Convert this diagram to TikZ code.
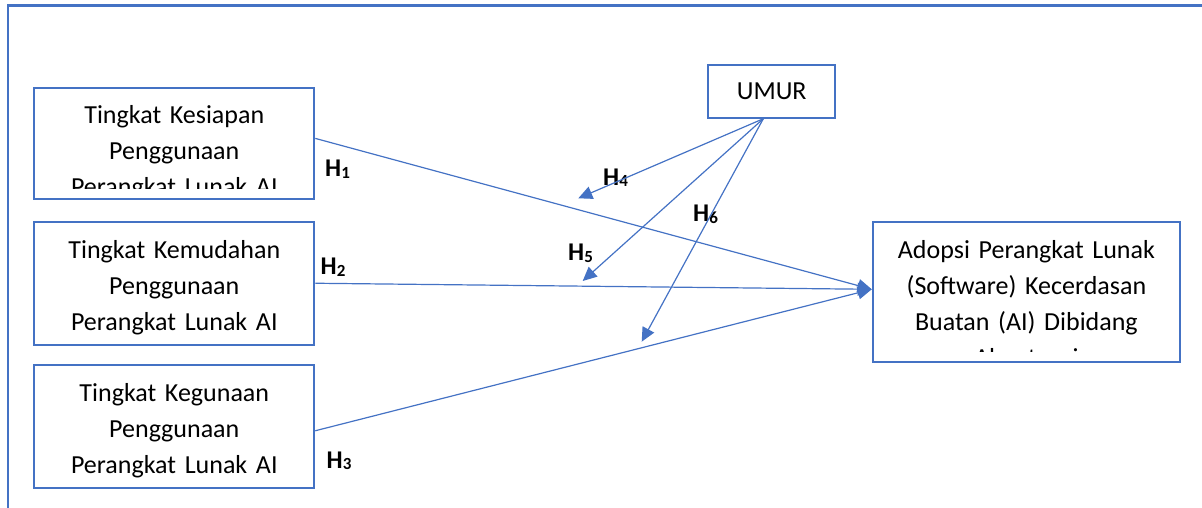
\documentclass[tikz,border=0pt]{standalone}
\usepackage{fontspec}
\setmainfont{Carlito}
\usepackage{tikz}
\usetikzlibrary{positioning}
\usetikzlibrary{calc}
\usetikzlibrary{arrows.meta}
\definecolor{umblue}{HTML}{4472C4}
\tikzstyle{arrow}=
[draw=umblue,line width=1.2pt,-{Triangle[length=14pt,width=13pt]}]
\tikzstyle{box}=
[rectangle,draw=umblue,line width=2pt,fill=white,text=black,
minimum width=280pt,inner sep=0pt,font=\fontsize{26}{36}\selectfont]
\tikzstyle{boxtext}=
[text=black,font=\fontsize{26}{36}\selectfont,align=center,
text width=300pt,inner sep=0pt,anchor=base]
\tikzstyle{hlabel}=
[font=\fontsize{25.5}{28}\selectfont\bfseries,anchor=base west,inner sep=0pt]
% text area of a box: inset 10pt from top and bottom
\newcommand{\boxclip}{\clip ([yshift=10.5pt]path picture bounding box.south west)
rectangle ([yshift=-10pt]path picture bounding box.north east);}
% hypothesis name with its index
\newcommand{\hyp}[1]{H\raisebox{-1.6pt}{\fontsize{17}{18}\selectfont #1}}

\begin{document}
\begin{tikzpicture}[x=1pt,y=-1pt]
\useasboundingbox (0,0) rectangle (1202,508);
% outer frame
\draw[umblue,line width=2.4pt] (8,508)--(8,5.5)--(1202,5.5);
\node (kesiapan)
[box,
minimum height=111.3pt,
path picture={\boxclip
\node[boxtext] at ([yshift=-35.7pt]path picture bounding box.north)
{Tingkat Kesiapan\\Penggunaan\\Perangkat Lunak AI};}]
at (174.3,143.4) {};
\node (kemudahan)
[box,
minimum height=123pt,
below=20.7pt of kesiapan,
path picture={\boxclip
\node[boxtext] at ([yshift=-36.6pt]path picture bounding box.north)
{Tingkat Kemudahan\\Penggunaan\\Perangkat Lunak AI};}]
{};
\node (kegunaan)
[box,
minimum height=122.4pt,
below=18.6pt of kemudahan,
path picture={\boxclip
\node[boxtext] at ([yshift=-36.6pt]path picture bounding box.north)
{Tingkat Kegunaan\\Penggunaan\\Perangkat Lunak AI};}]
{};
\node (umur)
[box,
minimum width=126.7pt,
minimum height=52.7pt]
at (771.7,91.4) {UMUR};
\node (adopsi)
[box,
minimum width=307.3pt,
minimum height=139.4pt,
path picture={\boxclip
\node[boxtext] at ([yshift=-36pt]path picture bounding box.north)
{Adopsi Perangkat Lunak\\(Software) Kecerdasan\\Buatan (AI) Dibidang\\Akuntansi};}]
at (1026.4,292) {};
% hypothesis labels
\node (h1) [hlabel] at (325,176.7) {\hyp{1}};
\node (h2) [hlabel] at (320.5,274.5) {\hyp{2}};
\node (h3) [hlabel] at (326.5,468.3) {\hyp{3}};
\node (h4) [hlabel] at (603,185) {\hyp{4}};
\node (h5) [hlabel] at (568,260.7) {\hyp{5}};
\node (h6) [hlabel] at (693,221.7) {\hyp{6}};
% moderating arrows
\coordinate (umurfoot) at ($(umur.south)+(-8.4,0)$);
\coordinate (h4end) at (578.3,198.3);
\coordinate (h5end) at (582.7,281);
\coordinate (h6end) at (641.7,341.7);
\draw[arrow]([yshift=5pt]kesiapan.east)--([yshift=2.7pt]adopsi.west);
\draw[arrow](kemudahan.east)--([yshift=2.7pt]adopsi.west);
\draw[arrow]([yshift=-4.2pt]kegunaan.east)--([yshift=2.7pt]adopsi.west);
\draw[arrow](umurfoot)--(h4end);
\draw[arrow](umurfoot)--(h5end);
\draw[arrow](umurfoot)--(h6end);
\end{tikzpicture}
\end{document}
